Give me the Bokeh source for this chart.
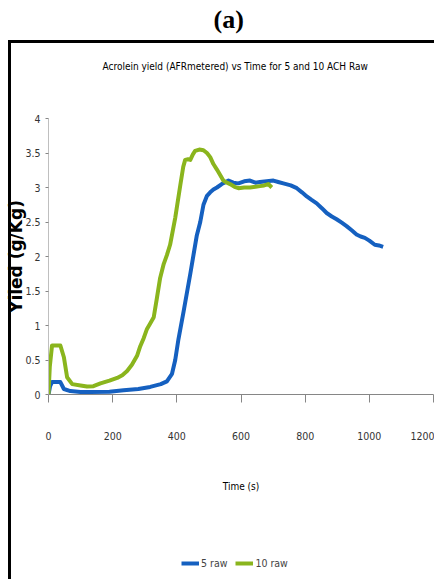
from bokeh.plotting import figure
from bokeh.layouts import column
from bokeh.models import Title, Legend, LegendItem, FixedTicker, Range1d
from bokeh.embed import file_html
from bokeh.resources import INLINE

# ---- data ----
t5 = [0, 5, 11, 37, 48, 68, 100, 131, 190, 234, 280, 317, 350, 369, 385, 395,
      405, 421, 442, 462, 473, 483, 494, 504, 514, 525, 540, 561, 576, 592, 610,
      628, 645, 659, 680, 701, 716, 732, 755, 774, 790, 805, 820, 836, 852, 867,
      883, 898, 914, 929, 945, 960, 973, 986, 1000, 1017, 1030, 1043]
y5 = [0, 0.12, 0.18, 0.18, 0.08, 0.05, 0.035, 0.035, 0.04, 0.06, 0.08, 0.11,
      0.15, 0.19, 0.3, 0.5, 0.8, 1.2, 1.75, 2.3, 2.5, 2.75, 2.88, 2.93, 2.97,
      3.0, 3.05, 3.1, 3.07, 3.06, 3.09, 3.1, 3.07, 3.08, 3.09, 3.1, 3.08, 3.06,
      3.03, 2.99, 2.93, 2.87, 2.82, 2.77, 2.7, 2.63, 2.58, 2.54, 2.49, 2.44,
      2.38, 2.32, 2.29, 2.27, 2.23, 2.17, 2.16, 2.14]

t10 = [0, 4, 11, 37, 48, 58, 74, 100, 120, 140, 162, 190, 214, 230, 245, 260,
       276, 286, 297, 307, 317, 328, 338, 348, 359, 369, 379, 395, 411, 420,
       426, 435, 442, 450, 457, 470, 483, 494, 504, 514, 525, 535, 545, 556,
       566, 580, 592, 610, 628, 645, 659, 672, 685, 696]
y10 = [0, 0.4, 0.71, 0.71, 0.54, 0.25, 0.15, 0.13, 0.115, 0.12, 0.16, 0.2,
       0.24, 0.28, 0.34, 0.43, 0.56, 0.7, 0.82, 0.95, 1.03, 1.12, 1.4, 1.69,
       1.89, 2.02, 2.17, 2.56, 3.04, 3.3, 3.4, 3.41, 3.4, 3.48, 3.53, 3.55,
       3.54, 3.5, 3.44, 3.34, 3.26, 3.18, 3.1, 3.07, 3.05, 3.01, 2.99, 3.0,
       3.0, 3.01, 3.02, 3.03, 3.05, 3.0]

x_ticks = [0, 200, 400, 600, 800, 1000, 1200]
y_ticks = [0, 0.5, 1, 1.5, 2, 2.5, 3, 3.5, 4]
y_tick_labels = ["0", "0.5", "1", "1.5", "2", "2.5", "3", "3.5", "4"]
series_names = ["5 raw", "10 raw"]

COND = "'DejaVu Sans Condensed', 'Liberation Sans', sans-serif"
BLUE = "#1560C0"
GREEN = "#8AB51D"

main_css = {
    "background-color": "white",
    "background-image": "linear-gradient(#000, #000), linear-gradient(#000, #000)",
    "background-repeat": "no-repeat",
    "background-size": "3px 520px, 440px 3px",
    "background-position": "8px 40px, 8px 40px",
}
legend_css = {
    "background-color": "white",
    "background-image": "linear-gradient(#000, #000)",
    "background-repeat": "no-repeat",
    "background-size": "3px 60px",
    "background-position": "8px 0px",
}

# ---------------- main chart ----------------
p = figure(width=434, height=540, x_range=Range1d(0, 1200), y_range=Range1d(0, 4),
           output_backend="svg", toolbar_location=None, title="(a)",
           min_border_left=48, min_border_right=1, min_border_top=117,
           min_border_bottom=146, styles=main_css)
p.background_fill_color = "white"
p.border_fill_color = None
p.outline_line_color = None
p.xgrid.visible = False
p.ygrid.visible = False

# outermost title "(a)"
p.title.align = "left"
p.title.offset = 165
p.title.vertical_align = "top"
p.title.text_font = "'Liberation Serif', serif"
p.title.text_font_size = "26px"
p.title.text_font_style = "bold"
p.title.text_color = "black"
p.title.standoff = 9

# spacer then chart title (inner panels are listed first)
p.add_layout(Title(text=" ", text_font_size="10px", standoff=15), "above")
p.add_layout(Title(text="Acrolein yield (AFRmetered) vs Time for 5 and 10 ACH Raw",
                   align="left", offset=54, text_font=COND, text_font_size="10px",
                   text_font_style="normal", text_color="black", standoff=37), "above")

p.line(t5, y5, line_color=BLUE, line_width=4, line_join="round")
p.line(t10, y10, line_color=GREEN, line_width=4, line_join="round")

xa = p.xaxis[0]
xa.ticker = FixedTicker(ticks=x_ticks)
xa.axis_line_color = "#868686"
xa.major_tick_line_color = "#868686"
xa.major_tick_out = 8
xa.major_tick_in = 0
xa.minor_tick_line_color = None
xa.major_label_standoff = 29
xa.major_label_text_font = COND
xa.major_label_text_font_size = "10.5px"
xa.major_label_text_color = "#333333"
xa.axis_label = "Time (s)"
xa.axis_label_standoff = 38
xa.axis_label_text_font = COND
xa.axis_label_text_font_size = "10px"
xa.axis_label_text_font_style = "normal"
xa.axis_label_text_color = "black"

ya = p.yaxis[0]
ya.ticker = FixedTicker(ticks=y_ticks)
ya.major_label_overrides = {v: s for v, s in zip(y_ticks, y_tick_labels)}
ya.axis_line_color = "#BFBFBF"
ya.major_tick_line_color = "#868686"
ya.major_tick_out = 3
ya.major_tick_in = 0
ya.minor_tick_line_color = None
ya.major_label_standoff = 5
ya.major_label_text_font = COND
ya.major_label_text_font_size = "10.5px"
ya.major_label_text_color = "#333333"
ya.axis_label = "Yiled (g/Kg)"
ya.axis_label_standoff = -4
ya.axis_label_text_font = "DejaVu Sans"
ya.axis_label_text_font_size = "17px"
ya.axis_label_text_font_style = "bold"
ya.axis_label_text_color = "black"

# ---------------- legend strip ----------------
# the series are drawn again here only to give the legend its swatches;
# the y range lies far above the data, so the lines themselves stay hidden
q = figure(width=434, height=39, x_range=Range1d(0, 1200), y_range=Range1d(100, 101),
           x_axis_location=None, y_axis_location=None, output_backend="svg",
           toolbar_location=None, min_border=0, min_border_left=0,
           min_border_right=0, min_border_top=0, min_border_bottom=0,
           styles=legend_css)
q.background_fill_color = None
q.border_fill_color = None
q.outline_line_color = None
q.xgrid.visible = False
q.ygrid.visible = False
k5 = q.line(t5, y5, line_color=BLUE, line_width=4)
k10 = q.line(t10, y10, line_color=GREEN, line_width=4)
legend = Legend(items=[LegendItem(label=series_names[0], renderers=[k5]),
                       LegendItem(label=series_names[1], renderers=[k10])],
                orientation="horizontal", location=(133, 10),
                glyph_width=18, glyph_height=12, label_standoff=2, spacing=8,
                padding=0, margin=0, border_line_color=None,
                background_fill_alpha=0,
                label_text_font=COND, label_text_font_size="10.5px",
                label_height=12)
q.add_layout(legend, "center")

layout = column(p, q, spacing=0)
open("out.html", "w").write(file_html(layout, INLINE))
